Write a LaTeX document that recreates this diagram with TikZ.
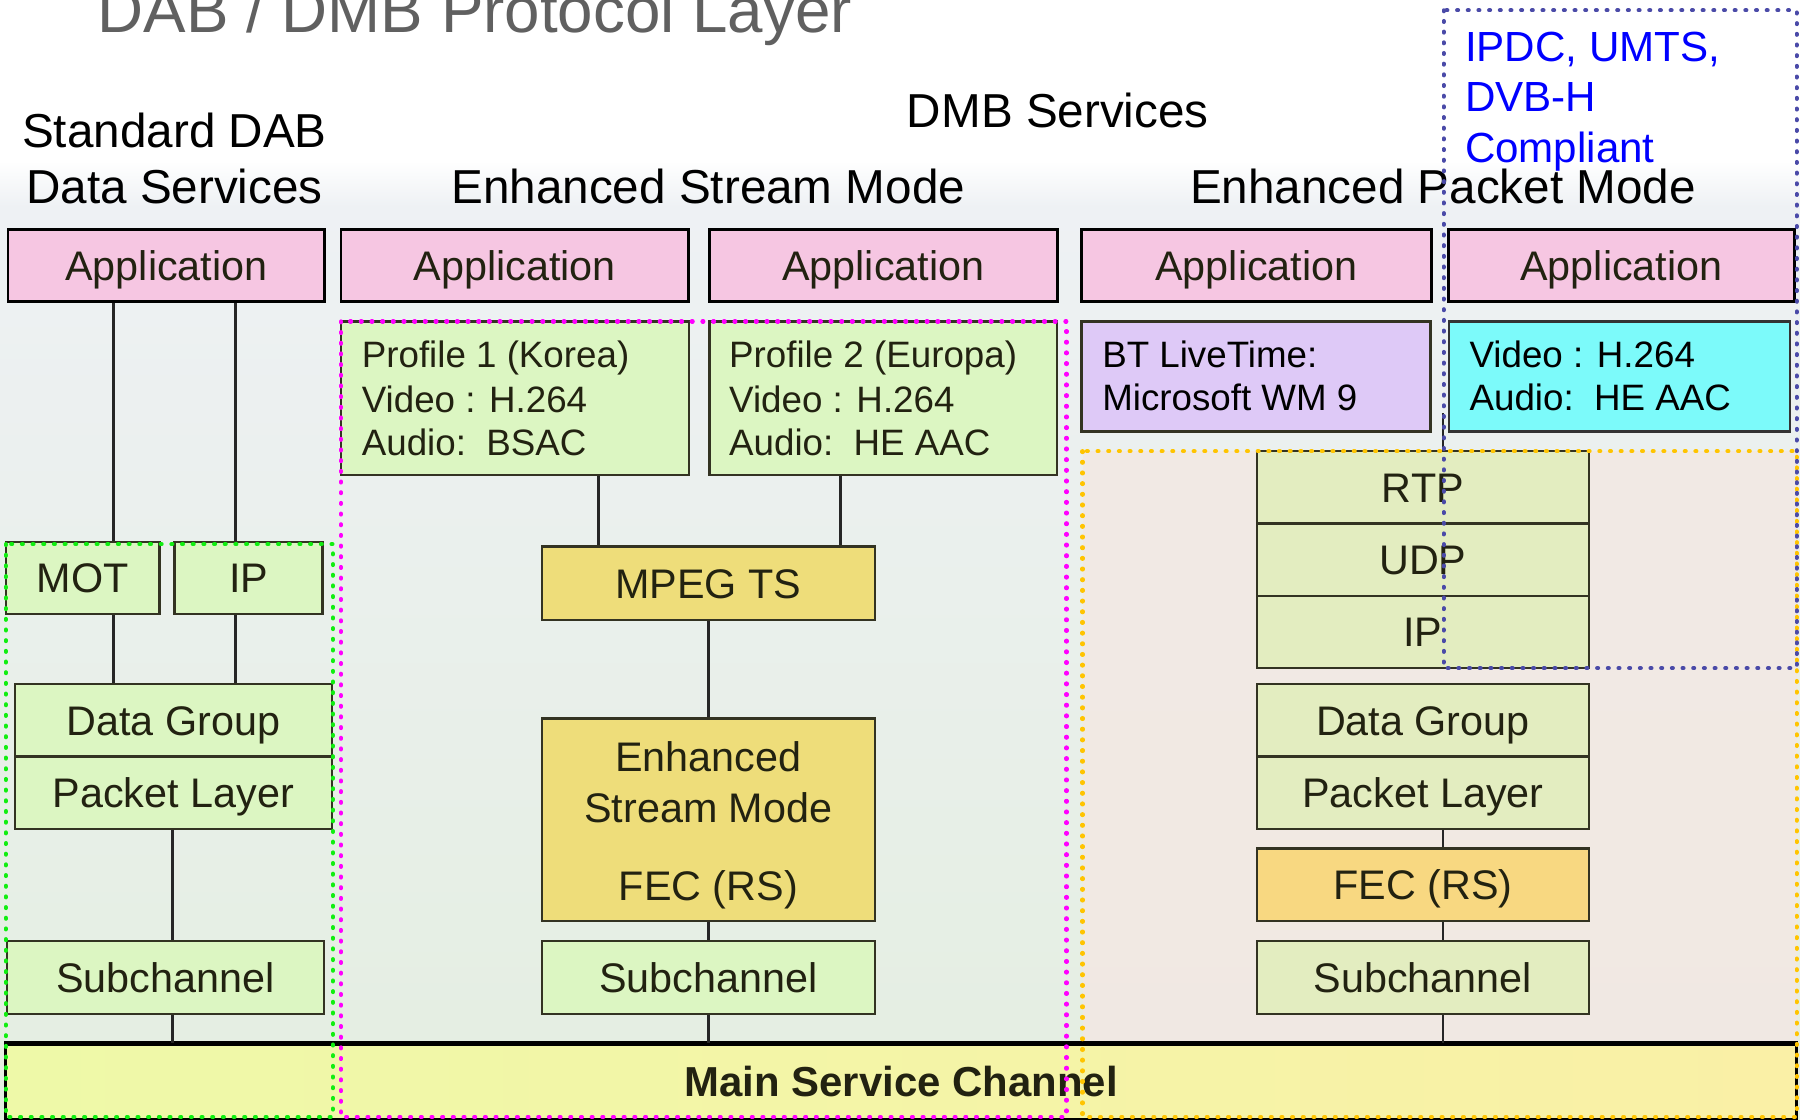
\documentclass[tikz,border=0pt]{standalone}
\usepackage{fontspec}
\setmainfont{Liberation Sans}
\definecolor{apppink}{HTML}{F6C6E2}
\definecolor{lgreen}{HTML}{DCF6C2}
\definecolor{lyg}{HTML}{E3EDC0}
\definecolor{goldb}{HTML}{EEDD7A}
\definecolor{fecor}{HTML}{F8D881}
\definecolor{lav}{HTML}{DEC9F7}
\definecolor{cyanb}{HTML}{7CFAFA}
\definecolor{boxline}{HTML}{333322}
\definecolor{txt}{HTML}{222211}
\definecolor{titlegray}{HTML}{606060}
\definecolor{dotblue}{HTML}{4A4AA8}
\definecolor{dotmag}{HTML}{FF00FF}
\definecolor{dotgreen}{HTML}{11EE11}
\definecolor{dotorange}{HTML}{FFC400}
\definecolor{ipblue}{HTML}{0000FF}
\definecolor{bgtop}{HTML}{EEF1F4}
\definecolor{bgbot}{HTML}{E4EEE1}
\definecolor{orfill}{HTML}{F3E8E3}
\definecolor{mscleft}{HTML}{EEF9A8}
\definecolor{mscright}{HTML}{FAF0A6}
\tikzset{
  box/.style={draw=boxline, line width=2pt, text=txt, inner sep=0pt,
    font=\fontsize{36}{40}\selectfont, text height=26pt, text depth=0pt},
  appbox/.style={box, fill=apppink, draw=black, line width=2.5pt, minimum height=63pt},
  infobox/.style={draw=boxline, line width=2pt, inner sep=0pt},
  hdr/.style={font=\fontsize{41.5}{48}\selectfont, inner sep=0pt, anchor=base, text=black},
  small/.style={font=\fontsize{32}{38}\selectfont, inner sep=0pt, anchor=base west, text=txt},
  bluetxt/.style={font=\fontsize{36.7}{44}\selectfont, inner sep=0pt, anchor=base west, text=ipblue},
  conn/.style={draw=black!85, line width=2.5pt},
  dotbox/.style={line width=3.6pt, dash pattern=on 0.8pt off 8.5pt, line cap=round},
}
\begin{document}
\begin{tikzpicture}[x=1pt,y=-1pt]
\useasboundingbox (0,0) rectangle (1568,975);
\clip (0,0) rectangle (1568,975);
% background
\fill[white] (0,0) rectangle (1568,975);
\shade[top color=white, bottom color=bgtop] (0,140) rectangle (1568,180);
\shade[top color=bgtop, bottom color=bgbot] (0,180) rectangle (1568,975);
\fill[orfill, opacity=0.85] (943,393) rectangle (1565,973);

% title
\node[font=\fontsize{55.5}{60}\selectfont, text=titlegray, inner sep=0pt, anchor=base west] (title) at (85,28.5) {DAB / DMB Protocol Layer};

% headers
\node[hdr] (h1) at (152,128.6) {Standard DAB};
\node[hdr] (h2) at (152,177.7) {Data Services};
\node[hdr] (h3) at (921.5,111) {DMB Services};
\node[hdr] (h4) at (617,177.7) {Enhanced Stream Mode};
\node[hdr] (h5) at (1257,177.7) {Enhanced Packet Mode};

% application row
\node[appbox, minimum width=276pt] (app1) at (145,231.5) {Application};
\node[appbox, minimum width=303pt] (app2) at (448.5,231.5) {Application};
\node[appbox, minimum width=303pt] (app3) at (769.5,231.5) {Application};
\node[appbox, minimum width=305pt] (app4) at (1094.5,231.5) {Application};
\node[appbox, minimum width=301pt] (app5) at (1412.5,231.5) {Application};

% coordinates for connectors
\coordinate (xa) at (99,0);
\coordinate (xb) at (205,0);
\coordinate (xc) at (150,0);
\coordinate (xd) at (521,0);
\coordinate (xe) at (732,0);
\coordinate (xm) at (617,0);
\coordinate (xr) at (1257,0);
\coordinate (rtpin) at (1257,360);

% left column
\node[box, fill=lgreen, minimum width=134pt, minimum height=63pt] (mot) at (72,503.5) {MOT};
\node[box, fill=lgreen, minimum width=129pt, minimum height=63pt] (ipl) at (216.5,503.5) {IP};
\node[box, fill=lgreen, minimum width=276pt, minimum height=63pt] (dgl) at (151,627.5) {Data Group};
\node[box, fill=lgreen, minimum width=276pt, minimum height=63pt] (pll) at (151,690.5) {Packet Layer};
\node[box, fill=lgreen, minimum width=276pt, minimum height=63pt] (subl) at (144,851.5) {Subchannel};

% middle column
\node[infobox, fill=lgreen, minimum width=303pt, minimum height=134pt] (prof1) at (448.5,347) {};
\node[small] (p1a) at (315,320) {Profile 1 (Korea)};
\node[small] (p1b) at (315,359) {Video : H.264};
\node[small] (p1c) at (315,397) {Audio:\ \ BSAC};
\node[infobox, fill=lgreen, minimum width=303pt, minimum height=134pt] (prof2) at (769.5,347) {};
\node[small] (p2a) at (635,320) {Profile 2 (Europa)};
\node[small] (p2b) at (635,359) {Video : H.264};
\node[small] (p2c) at (635,397) {Audio:\ \ HE AAC};
\node[box, fill=goldb, minimum width=290pt, minimum height=64pt] (mpeg) at (617,508) {MPEG TS};
\node[infobox, fill=goldb, minimum width=290pt, minimum height=176pt] (esm) at (617,714) {};
\node[hdr, font=\fontsize{36}{40}\selectfont, text=txt] (esma) at (617,672) {Enhanced};
\node[hdr, font=\fontsize{36}{40}\selectfont, text=txt] (esmb) at (617,716.6) {Stream Mode};
\node[hdr, font=\fontsize{36}{40}\selectfont, text=txt] (esmc) at (617,784) {FEC (RS)};
\node[box, fill=lgreen, minimum width=290pt, minimum height=63pt] (subm) at (617,851.5) {Subchannel};

% right columns
\node[infobox, fill=lav, minimum width=304pt, minimum height=96pt] (bt) at (1094,328) {};
\node[small, text=black] (bta) at (960,320) {BT LiveTime:};
\node[small, text=black] (btb) at (960,358) {Microsoft WM 9};
\node[infobox, draw=black!80, fill=cyanb, minimum width=297pt, minimum height=96pt] (cy) at (1410.5,328) {};
\node[small, text=black] (cya) at (1280,320) {Video : H.264};
\node[small, text=black] (cyb) at (1280,358) {Audio:\ \ HE AAC};

\node[box, fill=lyg, minimum width=289pt, minimum height=63pt] (rtp) at (1239.5,424.5) {RTP};
\node[box, fill=lyg, minimum width=289pt, minimum height=63pt] (udp) at (1239.5,487.5) {UDP};
\node[box, fill=lyg, minimum width=289pt, minimum height=63pt] (ipr) at (1239.5,550.5) {IP};
\node[box, fill=lyg, minimum width=289pt, minimum height=63pt] (dgr) at (1239.5,627.5) {Data Group};
\node[box, fill=lyg, minimum width=289pt, minimum height=63pt] (plr) at (1239.5,690.5) {Packet Layer};
\node[box, fill=fecor, minimum width=289pt, minimum height=63pt] (fec) at (1239.5,770.5) {FEC (RS)};
\node[box, fill=lyg, minimum width=289pt, minimum height=63pt] (subr) at (1239.5,851.5) {Subchannel};

% main service channel
\node[draw=black, line width=2.5pt, left color=mscleft, right color=mscright, inner sep=0pt,
      minimum width=1560pt, minimum height=65pt, text=txt,
      font=\bfseries\fontsize{36.5}{40}\selectfont, text height=26pt, text depth=0pt] (msc) at (785,942.5) {Main Service Channel};
\draw[black, line width=3.5pt] (msc.north west) -- (msc.north east);

% connectors
\draw[conn] (app1.south -| xa) -- (mot.north -| xa);
\draw[conn] (app1.south -| xb) -- (ipl.north -| xb);
\draw[conn] (mot.south -| xa) -- (dgl.north -| xa);
\draw[conn] (ipl.south -| xb) -- (dgl.north -| xb);
\draw[conn] (pll.south -| xc) -- (subl.north -| xc);
\draw[conn] (subl.south -| xc) -- (msc.north -| xc);
\draw[conn] (prof1.south -| xd) -- (mpeg.north -| xd);
\draw[conn] (prof2.south -| xe) -- (mpeg.north -| xe);
\draw[conn] (mpeg.south) -- (esm.north);
\draw[conn] (esm.south) -- (subm.north);
\draw[conn] (subm.south) -- (msc.north -| xm);
\draw[conn] (rtpin) -- (rtp.north -| xr);
\draw[conn] (plr.south -| xr) -- (fec.north -| xr);
\draw[conn] (fec.south -| xr) -- (subr.north -| xr);
\draw[conn] (subr.south -| xr) -- (msc.north -| xr);

% dotted regions
\draw[dotbox, draw=dotorange] (943,393) rectangle (1565,973);
\draw[dotbox, draw=dotmag] (297,280) rectangle (929,973);
\draw[dotbox, draw=dotgreen] (5,474) rectangle (290,973);
\draw[dotbox, draw=dotblue] (1257.5,9) rectangle (1565,582);

% blue text
\node[bluetxt] (ipdc1) at (1276,53.7) {IPDC, UMTS,};
\node[bluetxt] (ipdc2) at (1276,97.3) {DVB-H};
\node[bluetxt] (ipdc3) at (1276,141.7) {Compliant};
\end{tikzpicture}
\end{document}
